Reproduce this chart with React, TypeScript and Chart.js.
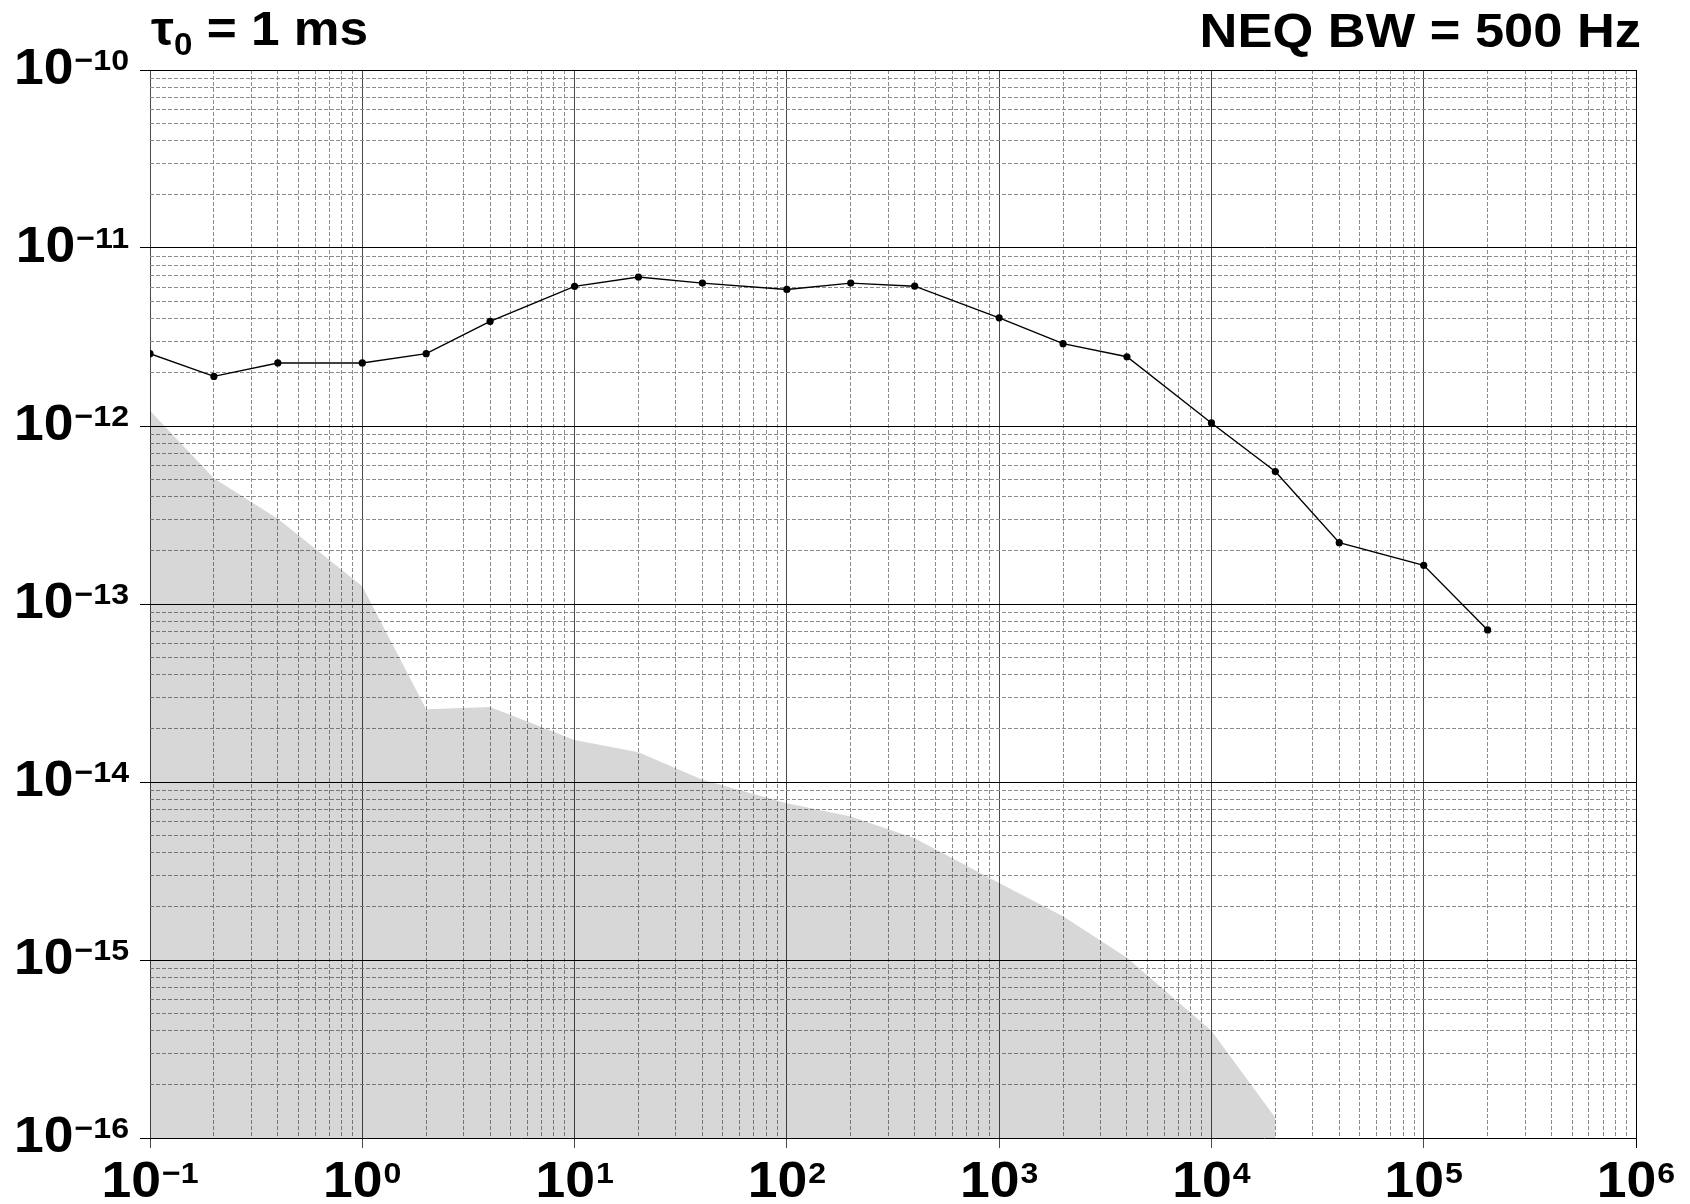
import React, { useEffect, useRef } from "react";
import { Chart, registerables } from "chart.js";

Chart.register(...registerables);

// ---- data ----
const freqs = [0.1, 0.2, 0.4, 1, 2, 4, 10, 20, 40, 100, 200, 400, 1000, 2000, 4000, 10000, 20000, 40000, 100000, 200000];
const measured = [
  2.55e-12, 1.9e-12, 2.26e-12, 2.26e-12, 2.55e-12, 3.87e-12, 6.09e-12, 6.87e-12, 6.35e-12, 5.85e-12,
  6.35e-12, 6.1e-12, 4.05e-12, 2.9e-12, 2.45e-12, 1.04e-12, 5.55e-13, 2.21e-13, 1.65e-13, 7.15e-14,
];
const floorFreqs = [0.1, 0.2, 0.4, 1, 2, 4, 10, 20, 40, 100, 200, 400, 1000, 2000, 4000, 10000, 20000];
const floorValues = [
  1.22e-12, 5.08e-13, 3.01e-13, 1.26e-13, 2.56e-14, 2.64e-14, 1.72e-14, 1.47e-14, 1.03e-14, 7.59e-15,
  6.4e-15, 4.83e-15, 2.71e-15, 1.76e-15, 1.03e-15, 4.0e-16, 1.3e-16,
];
const xDecades = [-1, 0, 1, 2, 3, 4, 5, 6];
const yDecades = [-16, -15, -14, -13, -12, -11, -10];
const titleLeftSymbol = "τ";
const titleLeftSub = "0";
const titleLeftRest = " = 1 ms";
const titleRight = "NEQ BW = 500 Hz";

const FONT = '"Liberation Sans", Arial, Helvetica, sans-serif';
const SX = 1.07;

function isDecade(v: number) {
  const l = Math.log10(v);
  return Math.abs(l - Math.round(l)) < 1e-6;
}

function buildTicks(decades: number[]) {
  const ticks: { value: number; major: boolean }[] = [];
  for (let i = 0; i < decades.length - 1; i++) {
    for (let d = 1; d <= 9; d++) {
      const v = d * Math.pow(10, decades[i]);
      ticks.push({ value: v, major: d === 1 });
    }
  }
  ticks.push({ value: Math.pow(10, decades[decades.length - 1]), major: true });
  return ticks;
}

function expText(e: number) {
  return e < 0 ? "\u2212" + Math.abs(e) : String(e);
}

function drawText(ctx: CanvasRenderingContext2D, text: string, x: number, y: number) {
  ctx.save();
  ctx.translate(x, y);
  ctx.scale(SX, 1);
  ctx.fillText(text, 0, 0);
  ctx.restore();
}

function textW(ctx: CanvasRenderingContext2D, text: string) {
  return ctx.measureText(text).width * SX;
}

function drawPow(
  ctx: CanvasRenderingContext2D,
  e: number,
  x: number,
  baseline: number,
  align: "center" | "right"
) {
  const big = 50;
  const small = 30;
  const ex = expText(e);
  ctx.font = `bold ${big}px ${FONT}`;
  const wb = textW(ctx, "10");
  ctx.font = `bold ${small}px ${FONT}`;
  const we = textW(ctx, ex);
  const gap = 1;
  const total = wb + gap + we;
  const x0 = align === "center" ? x - total / 2 : x - total;
  ctx.font = `bold ${big}px ${FONT}`;
  drawText(ctx, "10", x0, baseline);
  ctx.font = `bold ${small}px ${FONT}`;
  const expBase = baseline - big * 0.716 + small * 0.716;
  drawText(ctx, ex, x0 + wb + gap, expBase);
}

const labelPlugin = {
  id: "powLabels",
  afterDraw(chart: any) {
    const ctx: CanvasRenderingContext2D = chart.ctx;
    const xs = chart.scales.x;
    const ys = chart.scales.y;
    const { bottom } = chart.chartArea;
    ctx.save();
    ctx.fillStyle = "#000";
    ctx.textAlign = "left";
    ctx.textBaseline = "alphabetic";
    for (const e of yDecades) {
      const py = ys.getPixelForValue(Math.pow(10, e));
      drawPow(ctx, e, 129, py + 14, "right");
    }
    for (const e of xDecades) {
      const px = xs.getPixelForValue(Math.pow(10, e));
      drawPow(ctx, e, px, bottom + 59, "center");
    }
    // titles
    ctx.font = `bold 48px ${FONT}`;
    let x = 151;
    drawText(ctx, titleLeftSymbol, x, 45);
    x += textW(ctx, titleLeftSymbol);
    ctx.font = `bold 31px ${FONT}`;
    drawText(ctx, titleLeftSub, x, 55);
    x += textW(ctx, titleLeftSub);
    ctx.font = `bold 48px ${FONT}`;
    drawText(ctx, titleLeftRest, x, 45);
    ctx.font = `bold 49px ${FONT}`;
    const wr = textW(ctx, titleRight);
    drawText(ctx, titleRight, 1641 - wr, 47);
    ctx.restore();
  },
};

export default function App() {
  const ref = useRef<HTMLCanvasElement | null>(null);
  useEffect(() => {
    if (!ref.current) return;
    const xTicks = buildTicks(xDecades);
    const yTicks = buildTicks(yDecades);
    const chart = new Chart(ref.current, {
      type: "line",
      data: {
        datasets: [
          {
            label: "measured",
            data: freqs.map((f, i) => ({ x: f, y: measured[i] })),
            borderColor: "#000",
            borderWidth: 1.4,
            pointRadius: 3.6,
            pointBackgroundColor: "#000",
            pointBorderColor: "#000",
            pointBorderWidth: 0,
            fill: false,
            tension: 0,
          },
          {
            label: "floor",
            data: floorFreqs.map((f, i) => ({ x: f, y: floorValues[i] })),
            borderColor: "rgba(0,0,0,0)",
            borderWidth: 0,
            backgroundColor: "rgba(0,0,0,0.155)",
            pointRadius: 0,
            fill: "start",
            tension: 0,
          },
        ],
      },
      options: {
        animation: false,
        responsive: false,
        layout: { padding: { top: 70, right: 54, left: 0, bottom: 0 } },
        plugins: {
          legend: { display: false },
          tooltip: { enabled: false },
          title: { display: false },
        },
        scales: {
          x: {
            type: "logarithmic",
            min: 0.1,
            max: 1e6,
            afterBuildTicks: (s: any) => {
              s.ticks = xTicks.map((t) => ({ ...t }));
            },
            afterFit: (s: any) => {
              s.height = 66;
            },
            ticks: { display: false, callback: () => "" },
            border: {
              display: false,
              dash: (c: any) => (c.tick && isDecade(c.tick.value) ? [] : [4, 2]),
            },
            grid: {
              display: true,
              drawTicks: true,
              tickLength: 10,
              lineWidth: 1,
              color: (c: any) => {
                if (!c.tick) return "#8c8c8c";
                const v = c.tick.value;
                if (v >= 1e6 * 0.999) return "#000";
                return isDecade(v) ? "#4a4a4a" : "#8c8c8c";
              },
              tickColor: (c: any) => (c.tick && isDecade(c.tick.value) ? (c.tick.value >= 1e6 * 0.999 ? "#000" : "#4a4a4a") : "rgba(0,0,0,0)"),
            },
          },
          y: {
            type: "logarithmic",
            min: 1e-16,
            max: 1e-10,
            afterBuildTicks: (s: any) => {
              s.ticks = yTicks.map((t) => ({ ...t }));
            },
            afterFit: (s: any) => {
              s.width = 150;
            },
            ticks: { display: false, callback: () => "" },
            border: {
              display: false,
              dash: (c: any) => (c.tick && isDecade(c.tick.value) ? [] : [4, 2]),
            },
            grid: {
              display: true,
              drawTicks: true,
              tickLength: 10,
              lineWidth: 1,
              color: (c: any) => (c.tick && isDecade(c.tick.value) ? "#000" : "#8c8c8c"),
              tickColor: (c: any) => (c.tick && isDecade(c.tick.value) ? "#000" : "rgba(0,0,0,0)"),
            },
          },
        },
      } as any,
      plugins: [labelPlugin],
    });
    return () => chart.destroy();
  }, []);
  return (
    <div style={{ position: "absolute", left: 0, top: 0, width: 1690, height: 1204, background: "#fff" }}>
      <canvas ref={ref} width={1690} height={1204} style={{ display: "block", width: 1690, height: 1204 }} />
    </div>
  );
}
